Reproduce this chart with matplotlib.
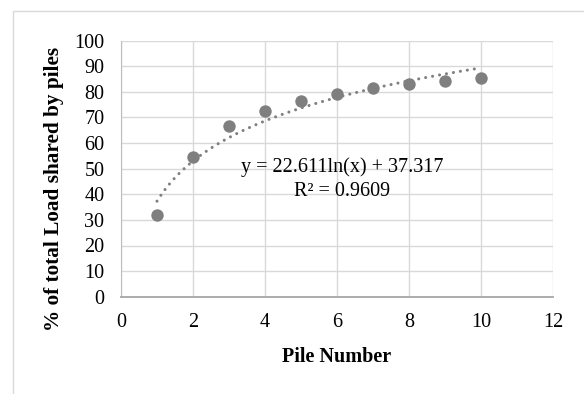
import numpy as np
import matplotlib
matplotlib.use("Agg")
import matplotlib.pyplot as plt
from matplotlib.patches import Rectangle

pile_number = [1, 2, 3, 4, 5, 6, 7, 8, 9, 10]
load_share = [31.9, 54.7, 66.5, 72.4, 76.6, 79.2, 81.6, 83.2, 84.3, 85.4]
fit_a = 22.611
fit_b = 37.317
r2 = 0.9609
x_ticks = [0, 2, 4, 6, 8, 10, 12]
y_ticks = [0, 10, 20, 30, 40, 50, 60, 70, 80, 90, 100]

plt.rcParams['font.family'] = ['Liberation Serif', 'DejaVu Serif']

W, H = 584, 394
fig = plt.figure(figsize=(W / 100, H / 100), dpi=100)
fig.patch.set_facecolor('white')

# outer chart border
fig.patches.append(Rectangle((13 / W, -0.1), 1.2, 1 - 11 / H + 0.1,
                             transform=fig.transFigure, fill=False,
                             edgecolor='#d9d9d9', linewidth=1.0))

ax = fig.add_axes([121 / W, 1 - 296.7 / H, (553 - 121) / W, (296.7 - 40.7) / H])
ax.set_xlim(0, 12)
ax.set_ylim(0, 100)
ax.set_xticks(x_ticks)
ax.set_yticks(y_ticks)
ax.grid(True, color='#d9d9d9', linewidth=1.0)
ax.set_axisbelow(True)
for s in ['top', 'right']:
    ax.spines[s].set_visible(False)
ax.spines['left'].set_color('#bfbfbf')
ax.spines['bottom'].set_color('#a6a6a6')
ax.spines['bottom'].set_linewidth(1.3)
ax.tick_params(length=0, labelsize=14.5, colors='black')
ax.tick_params(axis='y', pad=12)
ax.tick_params(axis='x', pad=12)

xs = np.linspace(1, 10, 300)
ax.plot(xs, fit_a * np.log(xs) + fit_b, color='#7f7f7f', linewidth=2.2,
        linestyle=(0, (0.01, 2.3)), dash_capstyle='round', zorder=3)
ax.scatter(pile_number, load_share, s=80, color='#7f7f7f', zorder=4, linewidths=0)

ax.text(6.14, 48.7, f"y = {fit_a}ln(x) + {fit_b}", ha='center', va='baseline', fontsize=14.5)
ax.text(6.14, 39.3, f"R² = {r2}", ha='center', va='baseline', fontsize=14.5)

fig.text(336.5 / W, 1 - 362 / H, 'Pile Number', ha='center', va='baseline',
         fontsize=14.5, fontweight='bold')
fig.text(54 / W, 1 - 189 / H, '% of total Load shared by piles', ha='center', va='center',
         rotation=90, fontsize=15.3, fontweight='bold')

fig.savefig('out.png', dpi=100)
